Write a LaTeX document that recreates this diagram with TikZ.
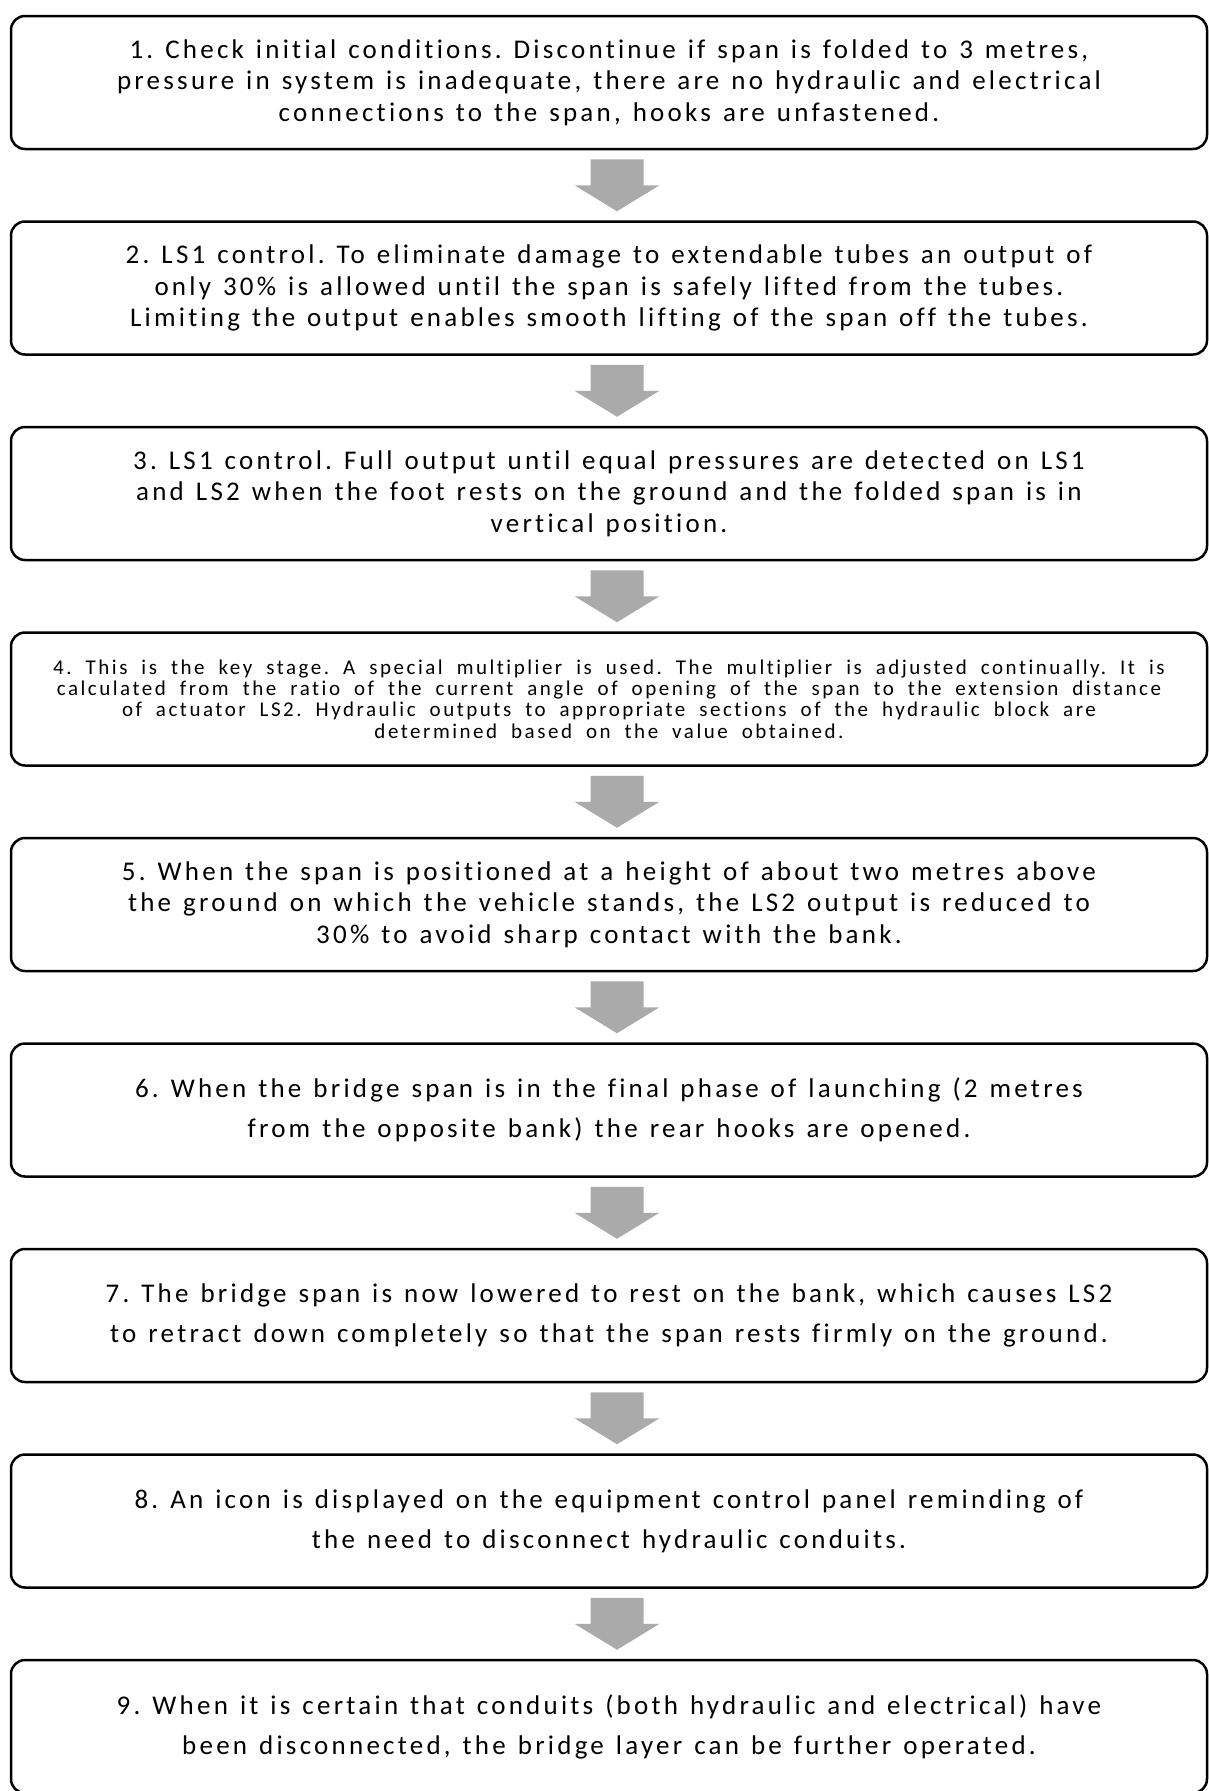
\documentclass[tikz,border=0pt]{standalone}
\usepackage{fontspec}
\setmainfont{Carlito}[LetterSpace=12,Ligatures={NoCommon}]
\usetikzlibrary{calc}
\definecolor{arrowgray}{RGB}{170,170,170}
\newcommand\bigfnt{\frenchspacing\fontsize{27pt}{31.5pt}\selectfont\spaceskip 12pt\relax}
\newcommand\widefnt{\frenchspacing\fontsize{27pt}{40pt}\selectfont\spaceskip 12pt\relax}
\newcommand\smallfnt{\frenchspacing\fontsize{21pt}{21.4pt}\selectfont\spaceskip 14pt\relax}
\tikzset{
  stepbox/.style={draw=black, line width=2.5pt, rounded corners=14pt, fill=white,
    minimum width=1196pt, minimum height=133pt, align=center, inner sep=0pt},
  bigtext/.style={font=\bigfnt},
  widetext/.style={font=\widefnt},
  smalltext/.style={font=\smallfnt},
}
\newcommand\flowarrow[2]{%
  \fill[arrowgray] let \p1=(#1.south), \p2=(#2.north) in
    (\x1+8pt-26.5pt,\y1-9pt) -- (\x1+8pt+26.5pt,\y1-9pt) --
    (\x1+8pt+26.5pt,{(\y1+\y2)/2}) -- (\x1+8pt+42.5pt,{(\y1+\y2)/2}) --
    (\x1+8pt,\y2+9pt) --
    (\x1+8pt-42.5pt,{(\y1+\y2)/2}) -- (\x1+8pt-26.5pt,{(\y1+\y2)/2}) -- cycle;}
\begin{document}
\begin{tikzpicture}[x=1pt,y=-1pt]
\useasboundingbox (0,0) rectangle (1208,1791);
\node[stepbox,bigtext] (b1) at (609,82.5) {1. Check initial conditions. Discontinue if span is folded to 3 metres,\\ pressure in system is inadequate, there are no hydraulic and electrical\\ connections to the span, hooks are unfastened.};
\node[stepbox,bigtext] (b2) at (609,288) {2. LS1 control. To eliminate damage to extendable tubes an output of\\ only 30\% is allowed until the span is safely lifted from the tubes.\\ Limiting the output enables smooth lifting of the span off the tubes.};
\node[stepbox,bigtext] (b3) at (609,493.5) {3. LS1 control. Full output until equal pressures are detected on LS1\\ and LS2 when the foot rests on the ground and the folded span is in\\ vertical position.};
\node[stepbox,smalltext] (b4) at (609,699) {4. This is the key stage. A special multiplier is used. The multiplier is adjusted continually. It is\\ calculated from the ratio of the current angle of opening of the span to the extension distance\\ of actuator LS2. Hydraulic outputs to appropriate sections of the hydraulic block are\\ determined based on the value obtained.};
\node[stepbox,bigtext] (b5) at (609,904.5) {5. When the span is positioned at a height of about two metres above\\ the ground on which the vehicle stands, the LS2 output is reduced to\\ 30\% to avoid sharp contact with the bank.};
\node[stepbox,widetext] (b6) at (609,1110) {6. When the bridge span is in the final phase of launching (2 metres\\ from the opposite bank) the rear hooks are opened.};
\node[stepbox,widetext] (b7) at (609,1315.5) {7. The bridge span is now lowered to rest on the bank, which causes LS2\\ to retract down completely so that the span rests firmly on the ground.};
\node[stepbox,widetext] (b8) at (609,1521) {8. An icon is displayed on the equipment control panel reminding of\\ the need to disconnect hydraulic conduits.};
\node[stepbox,widetext] (b9) at (609,1726.5) {9. When it is certain that conduits (both hydraulic and electrical) have\\ been disconnected, the bridge layer can be further operated.};
\flowarrow{b1}{b2}
\flowarrow{b2}{b3}
\flowarrow{b3}{b4}
\flowarrow{b4}{b5}
\flowarrow{b5}{b6}
\flowarrow{b6}{b7}
\flowarrow{b7}{b8}
\flowarrow{b8}{b9}
\end{tikzpicture}
\end{document}
